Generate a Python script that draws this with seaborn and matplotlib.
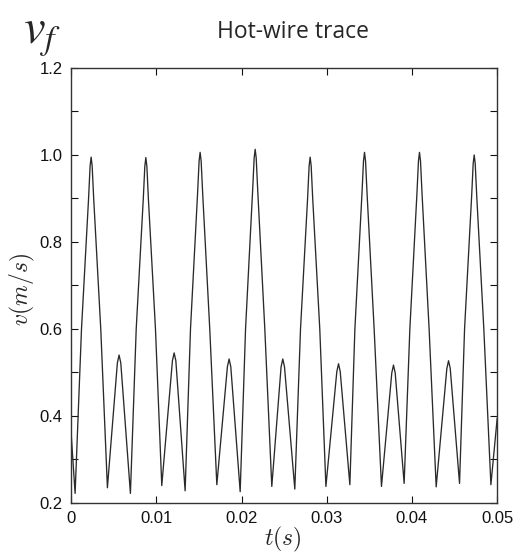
import numpy as np
import pandas as pd
import matplotlib
matplotlib.use('Agg')
import matplotlib.pyplot as plt
import seaborn as sns
from matplotlib.ticker import MultipleLocator

# hot-wire velocity trace
# (troughs, peaks and a few points on the flanks of each peak)
t = [0.0, 0.00047,
     0.00122, 0.00205, 0.00223, 0.00235, 0.00247, 0.00265, 0.00348,
     0.00426, 0.00543, 0.00563, 0.00583, 0.00696,
     0.00764, 0.00847, 0.00865, 0.00877, 0.00889, 0.00907, 0.0099,
     0.01064, 0.01189, 0.01209, 0.01229, 0.01338,
     0.01401, 0.01484, 0.01502, 0.01514, 0.01526, 0.01544, 0.01627,
     0.0171, 0.01834, 0.01854, 0.01874, 0.01984,
     0.02047, 0.0213, 0.02148, 0.0216, 0.02172, 0.0219, 0.02273,
     0.02355, 0.02464, 0.02484, 0.02504, 0.02625,
     0.02692, 0.02775, 0.02793, 0.02805, 0.02817, 0.02835, 0.02918,
     0.0299, 0.03118, 0.03138, 0.03158, 0.03271,
     0.0333, 0.03413, 0.03431, 0.03443, 0.03455, 0.03473, 0.03556,
     0.03642, 0.03763, 0.03783, 0.03803, 0.03908,
     0.03975, 0.04058, 0.04076, 0.04088, 0.041, 0.04118, 0.04201,
     0.04284, 0.04409, 0.04429, 0.04449, 0.04558,
     0.04617, 0.047, 0.04718, 0.0473, 0.04742, 0.0476, 0.04843,
     0.04926, 0.05]
v = [0.361, 0.222,
     0.60, 0.900, 0.975, 0.995, 0.975, 0.900, 0.60,
     0.235, 0.522, 0.540, 0.522, 0.222,
     0.60, 0.899, 0.974, 0.994, 0.974, 0.899, 0.60,
     0.240, 0.527, 0.545, 0.527, 0.228,
     0.60, 0.911, 0.986, 1.006, 0.986, 0.911, 0.60,
     0.242, 0.513, 0.531, 0.513, 0.226,
     0.60, 0.918, 0.993, 1.013, 0.993, 0.918, 0.60,
     0.238, 0.513, 0.531, 0.513, 0.232,
     0.60, 0.900, 0.975, 0.995, 0.975, 0.900, 0.60,
     0.238, 0.502, 0.520, 0.502, 0.242,
     0.60, 0.911, 0.986, 1.006, 0.986, 0.911, 0.60,
     0.238, 0.499, 0.517, 0.499, 0.245,
     0.60, 0.911, 0.986, 1.006, 0.986, 0.911, 0.60,
     0.237, 0.509, 0.527, 0.509, 0.245,
     0.60, 0.905, 0.980, 1.000, 0.980, 0.905, 0.60,
     0.242, 0.395]

x_ticks = [0, 0.01, 0.02, 0.03, 0.04, 0.05]
x_labels = ['0', '0.01', '0.02', '0.03', '0.04', '0.05']
y_ticks = [0.2, 0.4, 0.6, 0.8, 1.0, 1.2]
y_labels = ['0.2', '0.4', '0.6', '0.8', '1.0', '1.2']

df = pd.DataFrame({'t': t, 'v': v})

sns.set_style('white')
plt.rcParams['font.family'] = ['Liberation Sans', 'DejaVu Sans']
plt.rcParams['mathtext.fontset'] = 'cm'

fig = plt.figure(figsize=(5.19, 5.57), dpi=100)
ax = fig.add_axes([0.137, 0.097, 0.821, 0.781])

sns.lineplot(data=df, x='t', y='v', color='#2a2a2a', linewidth=0.95,
             estimator=None, sort=False, ax=ax)

ax.set_xlim(0, 0.05)
ax.set_ylim(0.2, 1.2)
ax.set_xticks(x_ticks)
ax.set_xticklabels(x_labels)
ax.set_yticks(y_ticks)
ax.set_yticklabels(y_labels)
ax.yaxis.set_minor_locator(MultipleLocator(0.1))
ax.tick_params(which='both', direction='in', top=True, right=True, left=True,
               bottom=True, length=5, width=0.8, labelsize=12, pad=6,
               colors='#111111')
for s in ax.spines.values():
    s.set_color('#333333')
    s.set_linewidth(1.0)

ax.set_xlabel('')
ax.set_ylabel('')
fig.text(0.545, 0.031, r'$t(s)$', fontsize=17, ha='center', va='center')
fig.text(0.044, 0.48, r'$v(m/s)$', fontsize=17, ha='center', va='center',
         rotation=90)

fig.text(0.565, 0.943, 'Hot-wire trace', fontsize=16.5, ha='center',
         va='center', family=['Open Sans', 'DejaVu Sans'])
fig.text(0.045, 0.935, r'$v_f$', fontsize=35, ha='left', va='center',
         math_fontfamily='stix')

fig.savefig('out.png', dpi=100)
